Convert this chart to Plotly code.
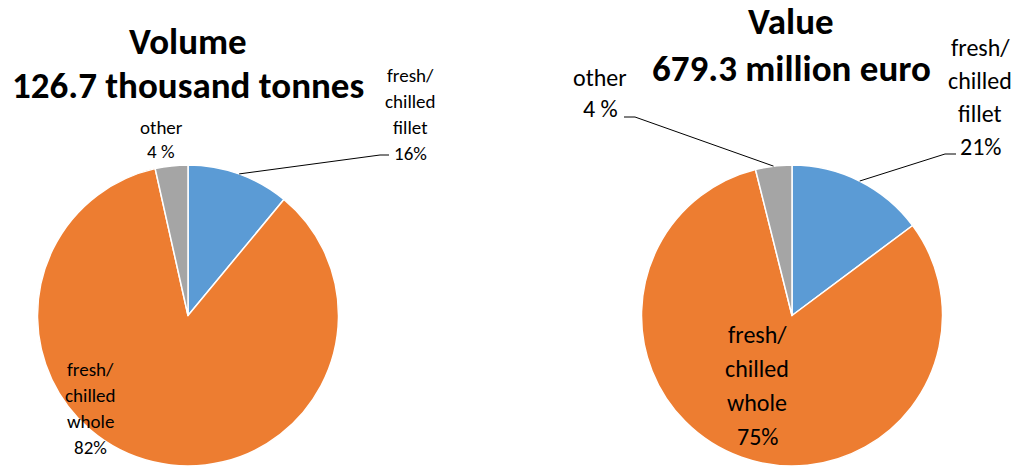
import math
import plotly.graph_objects as go

# ---- data ----
categories = ["fresh/chilled fillet", "fresh/chilled whole", "other"]
volume_shares = [11.0, 85.5, 3.5]      # slice sizes as drawn
value_shares = [14.8, 81.3, 3.9]       # slice sizes as drawn
volume_labels = ["16%", "82%", "4 %"]  # printed labels
value_labels = ["21%", "75%", "4 %"]
colors = ["#5B9BD5", "#ED7D31", "#A5A5A5"]
volume_title = ["Volume", "126.7 thousand tonnes"]
value_title = ["Value", "679.3 million euro"]

W, H = 1021, 466
FONT = "Calibri, Carlito, Lato, sans-serif"
R = 151
CENTERS = [(188, 316), (792, 316)]

fig = go.Figure()
for (cx, cy), vals in zip(CENTERS, [volume_shares, value_shares]):
    fig.add_trace(go.Pie(
        labels=categories, values=vals, sort=False, direction="clockwise",
        rotation=0, textinfo="none", hoverinfo="label+percent",
        marker=dict(colors=colors, line=dict(color="white", width=1.5)),
        domain=dict(x=[(cx - R) / W, (cx + R) / W], y=[max(0, (H - cy - R) / H), (H - cy + R) / H]),
        showlegend=False,
    ))

ann = []
shapes = []


def px(x, y):
    return x / W, 1 - y / H


def text_lines(lines, x, y0, dy, size, bold=False):
    for i, t in enumerate(lines):
        xx, yy = px(x, y0 + i * dy)
        ann.append(dict(x=xx, y=yy, xref="paper", yref="paper", showarrow=False,
                        text=f"<b>{t}</b>" if bold else t, xanchor="center", yanchor="middle",
                        font=dict(family=FONT, size=size, color="black")))


def edge_point(center, vals, idx, frac=1.0):
    total = sum(vals)
    start = sum(vals[:idx]) / total
    mid = (start + vals[idx] / total / 2) * 2 * math.pi
    cx, cy = center
    return cx + R * frac * math.sin(mid), cy - R * frac * math.cos(mid)


def leader(p0, p1, p2):
    for a, b in [(p0, p1), (p1, p2)]:
        x0, y0 = px(*a)
        x1, y1 = px(*b)
        shapes.append(dict(type="line", xref="paper", yref="paper", x0=x0, y0=y0, x1=x1, y1=y1,
                           line=dict(color="black", width=1)))


# titles
text_lines(volume_title, 188, 41, 44, 37, bold=True)
text_lines(value_title, 791, 22, 46, 37, bold=True)

# left pie labels
text_lines(["fresh/", "chilled", "fillet", volume_labels[0]], 410, 75, 26, 19)
leader(edge_point(CENTERS[0], volume_shares, 0), (380, 155), (389, 155))
text_lines(["other", volume_labels[2]], 161, 127, 25, 19)
text_lines(["fresh/", "chilled", "whole", volume_labels[1]], 90, 369, 26, 19)

# right pie labels
text_lines(["fresh/", "chilled", "fillet", value_labels[0]], 980, 47, 33, 24)
leader(edge_point(CENTERS[1], value_shares, 0), (945, 154), (956, 154))
text_lines(["other", value_labels[2]], 600, 77, 31, 24)
leader(edge_point(CENTERS[1], value_shares, 2), (635, 117), (624, 117))
text_lines(["fresh/", "chilled", "whole", value_labels[1]], 757, 334, 34, 24)

fig.update_layout(width=W, height=H, margin=dict(l=0, r=0, t=0, b=0),
                  paper_bgcolor="white", plot_bgcolor="white",
                  annotations=ann, shapes=shapes)
fig.write_html("out.html", config={"displayModeBar": False},
               post_script="document.body.style.margin='0';document.body.style.overflow='hidden';")
